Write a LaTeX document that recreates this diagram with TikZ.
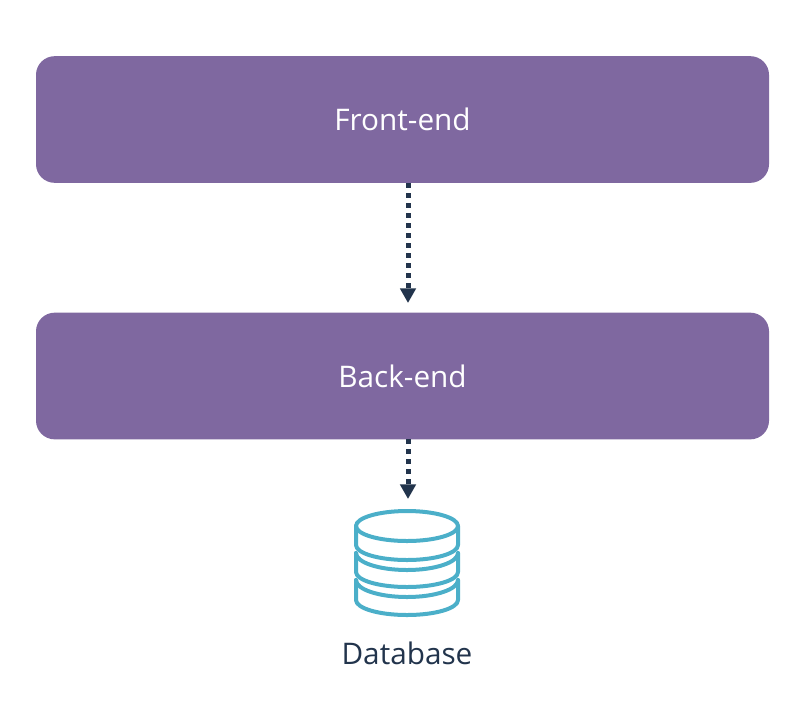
\documentclass[tikz,border=0pt]{standalone}
\usepackage{fontspec}
\setmainfont{Open Sans}
\usetikzlibrary{arrows.meta}
\definecolor{tierpurple}{HTML}{7F68A0}
\definecolor{flowdark}{HTML}{22344C}
\definecolor{dbteal}{HTML}{4BAFC9}
\tikzset{
	tierbox/.style={fill=tierpurple, rounded corners=14pt, minimum width=549.75pt, minimum height=95pt, text=white, font=\fontsize{22.3}{26}\selectfont},
	flowline/.style={-{Triangle[width=11.5pt,length=11pt]}, flowdark, line width=3.75pt, dash pattern=on 3.75pt off 3.75pt},
	dbline/.style={dbteal, line width=3pt, line join=round, line cap=round}
}
\begin{document}
\begin{tikzpicture}[x=0.75pt, y=-0.75pt]
	\useasboundingbox (0,0) rectangle (806,708);
	
	% 1. two tiers
	\node[tierbox] (front) at (402.5,119.5) {Front-end};
	\node[tierbox] (back) at (402.5,376) {Back-end};
	
	% 2. dotted connectors
	\coordinate (frontout) at (408,183);
	\coordinate (backin) at (408,303);
	\coordinate (backout) at (408,439);
	\coordinate (dbin) at (408,499);
	\draw[flowline] (frontout) -- (backin);
	\draw[flowline] (backout) -- (dbin);
	
	% 3. database icon
	\draw[dbline] (407,526) ellipse [x radius=51, y radius=15];
	\draw[dbline] (356,526) -- (356,545) arc [start angle=180, end angle=0, x radius=51, y radius=15] -- (458,526);
	\draw[dbline] (356,553) -- (356,572) arc [start angle=180, end angle=0, x radius=51, y radius=15] -- (458,553);
	\draw[dbline] (356,553) arc [start angle=180, end angle=0, x radius=51, y radius=17];
	\draw[dbline] (356,580) -- (356,600) arc [start angle=180, end angle=0, x radius=51, y radius=15] -- (458,580);
	\draw[dbline] (356,580) arc [start angle=180, end angle=0, x radius=51, y radius=17];
	
	% 4. label
	\node[flowdark, font=\fontsize{22.3}{26}\selectfont] (dblabel) at (407,653) {Database};
\end{tikzpicture}
\end{document}
